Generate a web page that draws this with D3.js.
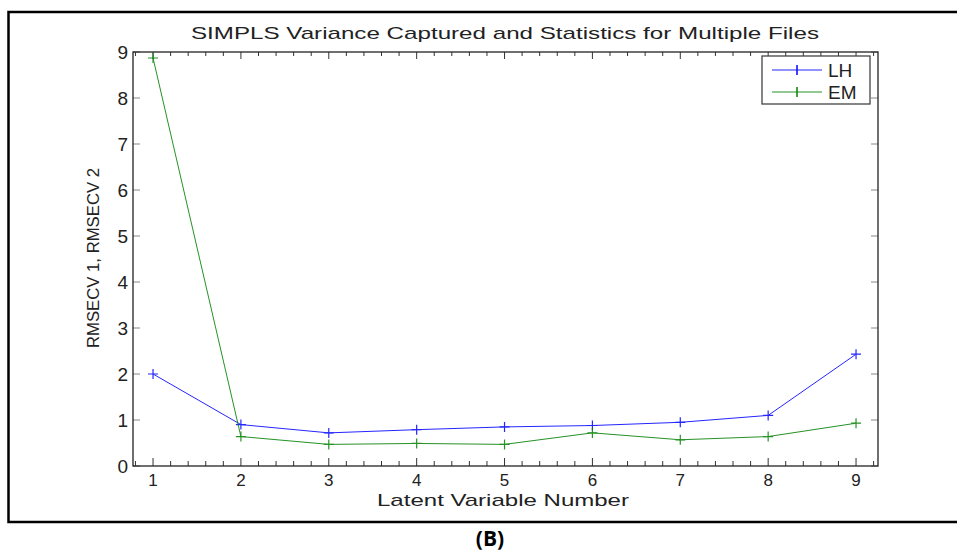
<!DOCTYPE html>
<html>
<head>
<meta charset="utf-8">
<script src="https://cdn.jsdelivr.net/npm/d3@7"></script>
<style>
  body { margin: 0; background: #fff; }
  svg { display: block; font-family: "Liberation Sans", Arial, sans-serif; }
</style>
</head>
<body>
<div id="chart"></div>
<script>
// latent variable numbers and the two RMSECV series
const lvNumbers = [1, 2, 3, 4, 5, 6, 7, 8, 9];
const lhValues = [2.0, 0.9, 0.72, 0.79, 0.85, 0.88, 0.95, 1.1, 2.43];
const emValues = [8.87, 0.64, 0.47, 0.49, 0.47, 0.72, 0.57, 0.64, 0.93];
const yTicks = [0, 1, 2, 3, 4, 5, 6, 7, 8, 9];
const seriesNames = ["LH", "EM"];
const seriesColors = ["#0000ff", "#008000"];

const width = 957, height = 551;
const svg = d3.select("#chart").append("svg")
    .attr("width", width)
    .attr("height", height);

// outer frame (right side runs off the page)
svg.append("path")
    .attr("d", "M 962 12 L 8.5 12 L 8.5 522 L 962 522")
    .attr("fill", "none")
    .attr("stroke", "#000")
    .attr("stroke-width", 2.5);

const plotL = 133, plotR = 878, plotT = 52, plotB = 466;

const x = d3.scaleLinear().domain([0.772, 9.25]).range([plotL, plotR]);
const y = d3.scaleLinear().domain([0, 9]).range([plotB, plotT]);

const minorTicks = d3.range(0.8, 9.21, 0.2).map(v => +v.toFixed(1));

// bottom axis ticks
const gx = svg.append("g");
gx.selectAll("line.bot")
    .data(minorTicks)
    .join("line")
    .attr("x1", d => x(d)).attr("x2", d => x(d))
    .attr("y1", plotB).attr("y2", d => Number.isInteger(d) ? plotB - 8 : plotB - 5)
    .attr("stroke", "#333").attr("stroke-width", 1);
// top axis ticks
gx.selectAll("line.top")
    .data(minorTicks)
    .join("line")
    .attr("class", "top")
    .attr("x1", d => x(d)).attr("x2", d => x(d))
    .attr("y1", plotT).attr("y2", d => Number.isInteger(d) ? plotT + 7 : plotT + 4)
    .attr("stroke", "#333").attr("stroke-width", 1);

gx.selectAll("text")
    .data(lvNumbers)
    .join("text")
    .attr("x", d => x(d))
    .attr("y", plotB + 20)
    .attr("text-anchor", "middle")
    .attr("font-size", 17)
    .attr("fill", "#222")
    .text(d => d);

// left / right ticks
const gy = svg.append("g");
gy.selectAll("line.l")
    .data(yTicks)
    .join("line")
    .attr("class", "l")
    .attr("x1", plotL).attr("x2", plotL + 7)
    .attr("y1", d => y(d)).attr("y2", d => y(d))
    .attr("stroke", "#888");
gy.selectAll("line.r")
    .data(yTicks)
    .join("line")
    .attr("class", "r")
    .attr("x1", plotR).attr("x2", plotR - 7)
    .attr("y1", d => y(d)).attr("y2", d => y(d))
    .attr("stroke", "#888");
gy.selectAll("text")
    .data(yTicks)
    .join("text")
    .attr("x", plotL - 5)
    .attr("y", d => y(d) + 6.5)
    .attr("text-anchor", "end")
    .attr("font-size", 19)
    .attr("fill", "#222")
    .text(d => d);

// axes box
svg.append("rect")
    .attr("x", plotL).attr("y", plotT)
    .attr("width", plotR - plotL).attr("height", plotB - plotT)
    .attr("fill", "none")
    .attr("stroke", "#222")
    .attr("stroke-width", 1.3);

// series
const series = [lhValues, emValues];
const line = d3.line()
    .x((d, i) => x(lvNumbers[i]))
    .y(d => y(d));

series.forEach((vals, k) => {
    const g = svg.append("g").attr("opacity", 0.85);
    g.append("path")
        .datum(vals)
        .attr("d", line)
        .attr("fill", "none")
        .attr("stroke", seriesColors[k])
        .attr("stroke-width", 1);
    g.selectAll("path.m")
        .data(vals)
        .join("path")
        .attr("class", "m")
        .attr("d", (d, i) => {
            const cx = x(lvNumbers[i]), cy = y(d);
            return `M ${cx - 5} ${cy} H ${cx + 5} M ${cx} ${cy - 5} V ${cy + 5}`;
        })
        .attr("stroke", seriesColors[k])
        .attr("stroke-width", 1.2);
});

// legend
const lg = svg.append("g");
lg.append("rect")
    .attr("x", 762).attr("y", 56)
    .attr("width", 108).attr("height", 48)
    .attr("fill", "#fff")
    .attr("stroke", "#444")
    .attr("stroke-width", 1.3);
seriesNames.forEach((name, k) => {
    const ly = 70 + k * 22;
    lg.append("line")
        .attr("x1", 772).attr("x2", 822)
        .attr("y1", ly).attr("y2", ly)
        .attr("stroke", seriesColors[k]).attr("stroke-width", 1)
        .attr("opacity", 0.85);
    lg.append("path")
        .attr("d", `M 797 ${ly - 5} V ${ly + 5}`)
        .attr("stroke", seriesColors[k]).attr("stroke-width", 1.5);
    lg.append("text")
        .attr("x", 828).attr("y", ly + 7)
        .attr("font-size", 19)
        .attr("fill", "#222")
        .text(name);
});

// title and axis labels
svg.append("text")
    .attr("x", 505).attr("y", 39)
    .attr("text-anchor", "middle")
    .attr("font-size", 17)
    .attr("textLength", 628).attr("lengthAdjust", "spacingAndGlyphs")
    .attr("fill", "#222")
    .text("SIMPLS Variance Captured and Statistics for Multiple Files");

svg.append("text")
    .attr("x", 503).attr("y", 506)
    .attr("text-anchor", "middle")
    .attr("font-size", 17)
    .attr("textLength", 252).attr("lengthAdjust", "spacingAndGlyphs")
    .attr("fill", "#222")
    .text("Latent Variable Number");

svg.append("text")
    .attr("transform", "translate(99,258) rotate(-90)")
    .attr("text-anchor", "middle")
    .attr("font-size", 17)
    .attr("textLength", 180).attr("lengthAdjust", "spacingAndGlyphs")
    .attr("fill", "#222")
    .text("RMSECV 1, RMSECV 2");

svg.append("text")
    .attr("x", 490).attr("y", 546)
    .attr("text-anchor", "middle")
    .attr("font-family", "'Open Sans', sans-serif")
    .attr("font-weight", "bold")
    .attr("font-size", 21)
    .text("(B)");
</script>
</body>
</html>
